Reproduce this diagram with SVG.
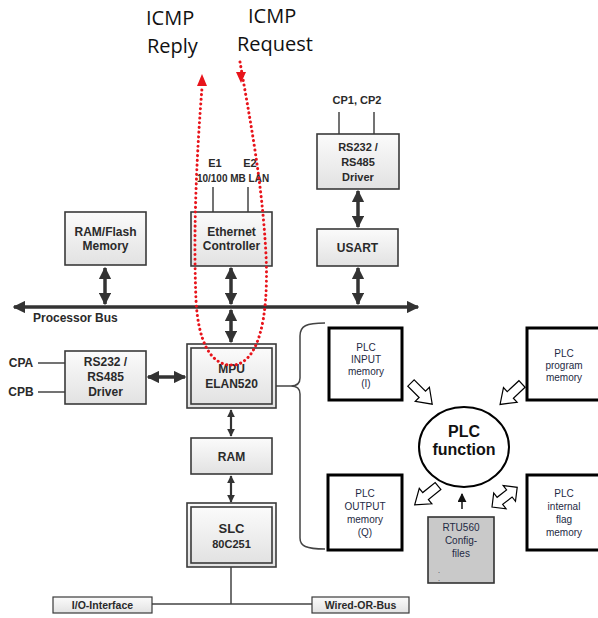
<svg xmlns="http://www.w3.org/2000/svg" width="598" height="618" viewBox="0 0 598 618">
<defs>
  <linearGradient id="g" x1="0" y1="0" x2="0" y2="1">
    <stop offset="0" stop-color="#fbfbfb"/>
    <stop offset="1" stop-color="#e2e2e2"/>
  </linearGradient>
  <marker id="ah" viewBox="0 0 10 10" refX="9" refY="5" markerWidth="3.6" markerHeight="3.6" orient="auto-start-reverse">
    <path d="M0,0 L10,5 L0,10 z" fill="#333"/>
  </marker>
  <marker id="ahs" viewBox="0 0 10 10" refX="9" refY="5" markerWidth="6" markerHeight="6" orient="auto">
    <path d="M0,0 L10,5 L0,10 z" fill="#111"/>
  </marker>
</defs>
<style>
  .box{fill:url(#g);stroke:#3a3a3a;stroke-width:1.6}
  .t{font-family:"Liberation Sans",Arial,sans-serif;font-weight:bold;font-size:12px;fill:#2a2a2a;text-anchor:middle}
  .s{font-size:11px}
  .p{font-family:"Liberation Sans",Arial,sans-serif;font-size:10px;fill:#1e2a44;text-anchor:middle}
  .plc{fill:#fff;stroke:#000;stroke-width:3}
  .c{stroke:#333;stroke-width:3.5;fill:none;marker-start:url(#ah);marker-end:url(#ah)}
  .ln{stroke:#444;stroke-width:1.5;fill:none}
  .blk{fill:#fff;stroke:#000;stroke-width:1.2;stroke-linejoin:miter}
  .icmp{font-family:"Open Sans","Liberation Sans",sans-serif;font-size:20px;fill:#111}
  .red{stroke:#e8141b;stroke-width:3;fill:none;stroke-dasharray:0.1 4.6;stroke-linecap:round}
</style>

<g id="connectors">
  <line class="c" x1="14" y1="307" x2="418" y2="307"/>
  <line class="c" x1="105" y1="268" x2="105" y2="304"/>
  <line class="c" x1="231" y1="268" x2="231" y2="304"/>
  <line class="c" x1="231" y1="310" x2="231" y2="342"/>
  <line class="c" x1="358" y1="268" x2="358" y2="304"/>
  <line class="c" x1="358" y1="191" x2="358" y2="227"/>
  <line class="c" x1="148" y1="377" x2="185" y2="377"/>
  <line class="c" x1="231" y1="410" x2="231" y2="436" style="stroke-width:2.2"/>
  <line class="c" x1="231" y1="476" x2="231" y2="502" style="stroke-width:2.2"/>
  <line class="ln" x1="213" y1="187" x2="213" y2="212"/>
  <line class="ln" x1="248" y1="187" x2="248" y2="212"/>
  <line class="ln" x1="339" y1="112" x2="339" y2="134"/>
  <line class="ln" x1="374" y1="112" x2="374" y2="134"/>
  <line class="ln" x1="38" y1="363" x2="65" y2="363"/>
  <line class="ln" x1="38" y1="392" x2="65" y2="392"/>
  <path class="ln" d="M231 567 V604 M152 604 H312"/>
  <line class="ln" x1="276" y1="386" x2="291" y2="386"/>
  <path class="ln" d="M325 323 C306 323 300 326 300 336 L300 378 C300 384 297 386 291 386 C297 386 300 388 300 394 L300 538 C300 546 306 549 325 549"/>
  <line x1="462" y1="509" x2="462" y2="494" stroke="#111" stroke-width="1.5" marker-end="url(#ahs)"/>
  <polygon class="blk" transform="translate(411,383) rotate(45)" points="0,-4.5 16,-4.5 16,-10 30,0 16,10 16,4.5 0,4.5"/>
  <polygon class="blk" transform="translate(522,384) rotate(137)" points="0,-4.5 16,-4.5 16,-10 30,0 16,10 16,4.5 0,4.5"/>
  <polygon class="blk" transform="translate(438,486) rotate(141)" points="0,-4.5 16,-4.5 16,-10 30,0 16,10 16,4.5 0,4.5"/>
  <polygon class="blk" transform="translate(492,507) rotate(-38)" points="0,0 10,-10 10,-4.5 22,-4.5 22,-10 32,0 22,10 22,4.5 10,4.5 10,10"/>
</g>

<g id="ram-flash"><rect class="box" x="65" y="212" width="81" height="53"/>
  <text class="t" x="105.5" y="236">RAM/Flash</text><text class="t" x="105.5" y="250">Memory</text></g>
<g id="ethernet"><rect class="box" x="191" y="212" width="81" height="54"/>
  <text class="t" x="231.5" y="236">Ethernet</text><text class="t" x="231.5" y="250">Controller</text></g>
<g id="e-labels"><text class="t s" x="215" y="167">E1</text><text class="t s" x="250" y="167">E2</text>
  <text class="t" x="233" y="182" style="font-size:10px">10/100 MB LAN</text></g>
<g id="usart"><rect class="box" x="317" y="229" width="81" height="37"/>
  <text class="t" x="357.5" y="252">USART</text></g>
<g id="rs-top"><rect class="box" x="317" y="134" width="82" height="55"/>
  <text class="t s" x="358" y="151">RS232 /</text><text class="t s" x="358" y="166">RS485</text><text class="t s" x="358" y="181">Driver</text>
  <text class="t s" x="357" y="104">CP1, CP2</text></g>
<g id="bus-label"><text class="t" x="33" y="322" style="text-anchor:start">Processor Bus</text></g>
<g id="rs-left"><rect class="box" x="65" y="351" width="81" height="53"/>
  <text class="t" x="105.5" y="366">RS232 /</text><text class="t" x="105.5" y="381">RS485</text><text class="t" x="105.5" y="396">Driver</text>
  <text class="t" x="21" y="367">CPA</text><text class="t" x="21" y="396">CPB</text></g>
<g id="mpu"><rect class="box" x="187" y="344" width="89" height="64"/><rect class="box" x="191" y="348" width="81" height="56"/>
  <text class="t" x="231.5" y="373">MPU</text><text class="t" x="231.5" y="388">ELAN520</text></g>
<g id="ram"><rect class="box" x="191" y="438" width="81" height="36"/>
  <text class="t" x="231.5" y="461">RAM</text></g>
<g id="slc"><rect class="box" x="187" y="503" width="89" height="64"/><rect class="box" x="191" y="507" width="81" height="56"/>
  <text class="t" x="231.5" y="533" style="font-size:13px">SLC</text><text class="t s" x="231.5" y="548">80C251</text></g>
<g id="io"><rect class="box" x="53" y="597" width="99" height="16" style="stroke-width:1.2"/>
  <text class="t" x="102.5" y="609" style="font-size:10.5px">I/O-Interface</text></g>
<g id="wired"><rect class="box" x="312" y="597" width="97" height="16" style="stroke-width:1.2"/>
  <text class="t" x="360.5" y="609" style="font-size:10.5px">Wired-OR-Bus</text></g>

<g id="plc-input"><rect class="plc" x="329" y="328" width="73" height="72"/>
  <text class="p" x="366" y="351">PLC</text><text class="p" x="366" y="363">INPUT</text><text class="p" x="366" y="375">memory</text><text class="p" x="366" y="387">(I)</text></g>
<g id="plc-program"><rect class="plc" x="527" y="328" width="80" height="72"/>
  <text class="p" x="564" y="357">PLC</text><text class="p" x="564" y="369">program</text><text class="p" x="564" y="381">memory</text></g>
<g id="plc-output"><rect class="plc" x="328" y="475" width="74" height="75"/>
  <text class="p" x="365" y="497">PLC</text><text class="p" x="365" y="510">OUTPUT</text><text class="p" x="365" y="523">memory</text><text class="p" x="365" y="536">(Q)</text></g>
<g id="plc-flag"><rect class="plc" x="527" y="475" width="80" height="75"/>
  <text class="p" x="564" y="497">PLC</text><text class="p" x="564" y="510">internal</text><text class="p" x="564" y="523">flag</text><text class="p" x="564" y="536">memory</text></g>
<g id="rtu"><rect x="428" y="517" width="66" height="66" fill="#c9c9c9" stroke="#333" stroke-width="1.6"/>
  <text class="p" x="461" y="531">RTU560</text><text class="p" x="461" y="544">Config-</text><text class="p" x="461" y="557">files</text>
  <text class="p" x="439" y="573" style="font-size:7px">.</text><text class="p" x="439" y="581" style="font-size:7px">.</text></g>
<g id="plc-function"><ellipse cx="464" cy="447" rx="45" ry="40" fill="#fff" stroke="#000" stroke-width="2"/>
  <text class="t" x="464" y="437" style="font-size:16px;fill:#111">PLC</text><text class="t" x="464" y="455" style="font-size:16px;fill:#111">function</text></g>

<g id="icmp">
  <text class="icmp" x="146" y="25">ICMP</text><text class="icmp" x="147" y="53">Reply</text>
  <text class="icmp" x="248" y="23">ICMP</text><text class="icmp" x="237" y="51">Request</text>
  <path class="red" d="M240 62 C250 120 262 180 266 255 C269 320 258 362 234 365 C210 367 198 340 196 300 C193 230 197 150 202 88"/>
  <polygon points="197,86 202,74 207,86" fill="#e8141b"/>
  <polygon points="236,72 246,72 241,83" fill="#e8141b"/>
</g>
</svg>
